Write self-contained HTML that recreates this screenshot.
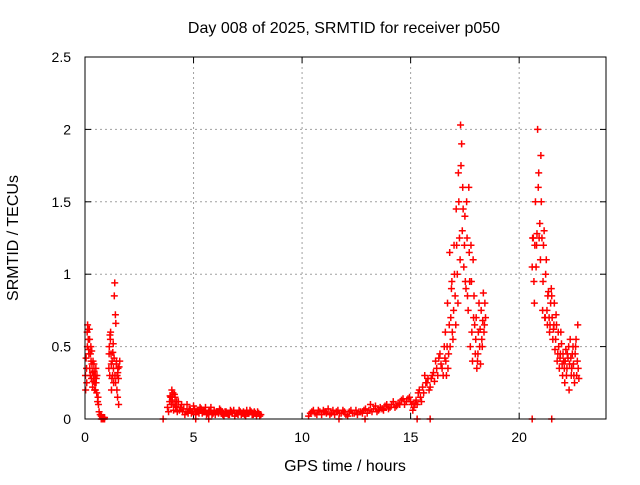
<!DOCTYPE html>
<html><head><meta charset="utf-8"><style>
body{margin:0;background:#fff}
svg text{font-family:"Liberation Sans",sans-serif;font-size:14px;fill:#000}
svg text.big{font-size:16px}
</style></head><body>
<svg id="chart" width="640" height="480">
<text class="big" x="344" y="33" text-anchor="middle">Day 008 of 2025, SRMTID for receiver p050</text>
<text class="big" x="345" y="471" text-anchor="middle">GPS time / hours</text>
<text class="big" transform="translate(18,238) rotate(-90)" text-anchor="middle">SRMTID / TECUs</text>
<g id="grid"></g>
<g id="ticks"></g>
<g id="marks"></g>
<rect x="85" y="57" width="521" height="362" fill="none" stroke="#000" stroke-width="1"/>
</svg>
<script>
const xTicks=[0,5,10,15,20];
const yTicks=[0,0.5,1,1.5,2,2.5];
const yTickLabels=["0","0.5","1","1.5","2","2.5"];
// segment data: hours and SRMTID values
const tA=[0.02,0.05,0.08,0.1,0.12,0.15,0.17,0.2,0.22,0.25,0.27,0.3,0.32,0.35,0.37,0.4,0.42,0.45,0.48,0.5,0.52,0.55,0.6,0.62,0.65,0.7,0.75,0.8,0.85,0.9,1.1,1.12,1.15,1.18,1.2,1.22,1.25,1.27,1.3,1.32,1.35,1.37,1.4,1.42,1.45,1.48,1.5,1.52,1.55,1.6];
const vA=[0.3,0.42,0.25,0.6,0.65,0.55,0.48,0.62,0.35,0.45,0.5,0.28,0.38,0.22,0.4,0.3,0.33,0.25,0.2,0.35,0.28,0.3,0.15,0.1,0.05,0.03,0.02,0.01,0.01,0.01,0.35,0.5,0.58,0.6,0.45,0.2,0.4,0.3,0.52,0.25,0.85,0.94,0.72,0.66,0.4,0.3,0.15,0.35,0.1,0.4];
const tA2=[0.03,0.07,0.11,0.14,0.18,0.21,0.24,0.28,0.31,0.34,0.38,0.41,0.44,0.47,0.51,0.54,0.58,1.11,1.14,1.17,1.21,1.24,1.28,1.31,1.34,1.38,1.41,1.44,1.47,1.51,1.54,1.57];
const vA2=[0.2,0.35,0.5,0.62,0.45,0.55,0.3,0.4,0.47,0.32,0.26,0.38,0.2,0.3,0.25,0.18,0.12,0.45,0.3,0.55,0.38,0.28,0.46,0.35,0.42,0.3,0.25,0.38,0.2,0.32,0.28,0.36];
const tB=[3.8,3.9,3.95,4.0,4.05,4.1,4.15,4.2,4.25,4.3,4.4,4.5,4.6,4.7,4.8,4.9,5.0,5.1,5.2,5.3,5.4,5.5,5.6,5.7,5.8,5.9,6.0,6.1,6.2,6.3,6.4,6.5,6.6,6.7,6.8,6.9,7.0,7.1,7.2,7.3,7.4,7.5,7.6,7.7,7.8,7.9,8.0,8.1];
const vB=[0.08,0.12,0.15,0.2,0.18,0.1,0.15,0.08,0.05,0.12,0.08,0.05,0.03,0.1,0.07,0.04,0.09,0.03,0.06,0.08,0.04,0.06,0.03,0.05,0.08,0.04,0.03,0.05,0.07,0.04,0.02,0.05,0.03,0.06,0.04,0.02,0.04,0.06,0.03,0.05,0.02,0.04,0.06,0.03,0.05,0.02,0.04,0.03];
const tB2=[3.85,3.92,3.98,4.02,4.08,4.12,4.18,4.22,4.35,4.45,4.55,4.65,4.75,4.85,4.95,5.05,5.15,5.25,5.35,5.45,5.55,5.65,5.75,5.85,5.95,6.05,6.15,6.25,6.35,6.45,6.55,6.65,6.75,6.85,6.95,7.05,7.15,7.25,7.35,7.45,7.55,7.65,7.75,7.85,7.95,8.05];
const vB2=[0.05,0.16,0.1,0.13,0.06,0.17,0.09,0.12,0.06,0.1,0.07,0.05,0.04,0.06,0.05,0.07,0.05,0.04,0.07,0.05,0.08,0.04,0.06,0.03,0.06,0.05,0.04,0.06,0.03,0.05,0.04,0.03,0.05,0.06,0.04,0.03,0.05,0.04,0.03,0.06,0.04,0.05,0.03,0.04,0.05,0.02];
const tC=[10.3,10.45,10.6,10.75,10.9,11.05,11.2,11.35,11.5,11.65,11.8,11.95,12.1,12.25,12.4,12.55,12.7,12.85,13.0,13.15,13.3,13.45,13.6,13.75,13.9,14.05,14.2,14.35,14.5,14.65,14.8,14.95,15.05,15.15,15.25,15.35,15.45,15.55,15.65,15.75,15.85,15.95,16.05,16.15,16.25,16.35,16.45,16.55];
const vC=[0.02,0.05,0.04,0.06,0.03,0.05,0.07,0.04,0.03,0.06,0.04,0.05,0.02,0.06,0.04,0.03,0.05,0.06,0.04,0.1,0.07,0.05,0.08,0.06,0.1,0.08,0.12,0.09,0.1,0.14,0.12,0.15,0.1,0.08,0.13,0.18,0.15,0.22,0.3,0.25,0.2,0.28,0.32,0.4,0.3,0.45,0.35,0.5];
const tC2=[10.38,10.52,10.68,10.82,10.98,11.12,11.28,11.42,11.58,11.72,11.88,12.02,12.18,12.32,12.48,12.62,12.78,12.92,13.08,13.22,13.38,13.52,13.68,13.82,13.98,14.12,14.28,14.42,14.58,14.72,14.88,15.0,15.1,15.2,15.3,15.4,15.5,15.6,15.7,15.8,15.9,16.0,16.1,16.2,16.3,16.4,16.5,16.58];
const vC2=[0.04,0.06,0.03,0.05,0.06,0.04,0.03,0.06,0.05,0.04,0.06,0.03,0.05,0.04,0.06,0.05,0.04,0.07,0.06,0.05,0.09,0.06,0.07,0.09,0.07,0.1,0.08,0.11,0.13,0.1,0.14,0.12,0.06,0.11,0.1,0.2,0.12,0.18,0.25,0.28,0.22,0.3,0.26,0.35,0.42,0.38,0.3,0.42];
const tD=[16.6,16.65,16.7,16.75,16.8,16.85,16.9,16.95,17.0,17.05,17.1,17.15,17.2,17.25,17.3,17.35,17.4,17.45,17.5,17.55,17.6,17.65,17.7,17.75,17.8,17.85,17.9,17.95,18.0,18.05,18.1,18.15,18.2,18.25,18.3,18.35,18.4,18.45];
const vD=[0.6,0.3,0.8,0.45,1.15,0.7,0.95,0.55,1.2,0.85,1.45,1.0,1.7,1.25,2.03,1.9,1.6,1.05,1.4,0.9,1.25,0.75,1.15,0.5,0.95,0.4,0.7,0.65,0.55,0.35,0.45,0.8,0.62,0.75,0.5,0.87,0.65,0.7];
const tD2=[16.62,16.68,16.72,16.78,16.82,16.88,16.92,16.98,17.02,17.08,17.12,17.18,17.22,17.28,17.32,17.38,17.42,17.48,17.52,17.58,17.62,17.68,17.72,17.78,17.82,17.88,17.92,17.98,18.02,18.08,18.12,18.18,18.22,18.28,18.32,18.38,18.42];
const vD2=[0.4,0.5,0.35,0.65,0.5,0.9,0.6,0.75,1.0,0.65,1.2,0.8,1.5,1.1,1.75,1.3,1.45,1.2,0.95,1.5,0.85,1.6,0.95,1.2,0.6,1.1,0.85,0.45,0.7,0.4,0.6,0.5,0.38,0.55,0.68,0.6,0.8];
const tE=[20.6,20.65,20.7,20.75,20.8,20.85,20.9,20.95,21.0,21.05,21.1,21.15,21.2,21.25,21.3,21.35,21.4,21.45,21.5,21.55,21.6,21.65,21.7,21.75,21.8,21.85,21.9,21.95,22.0,22.05,22.1,22.15,22.2,22.25,22.3,22.35,22.4,22.45,22.5,22.55,22.6,22.65,22.7,22.75];
const vE=[1.05,1.25,0.8,1.5,1.2,2.0,1.7,1.35,1.82,1.25,0.95,1.3,0.7,1.1,0.65,0.88,0.6,0.8,0.85,0.55,0.65,0.48,0.72,0.4,0.6,0.35,0.45,0.52,0.3,0.4,0.25,0.48,0.35,0.42,0.2,0.55,0.3,0.45,0.38,0.25,0.5,0.3,0.65,0.28];
const tE2=[20.62,20.68,20.72,20.78,20.82,20.88,20.92,20.98,21.02,21.08,21.12,21.18,21.22,21.28,21.32,21.38,21.42,21.48,21.52,21.58,21.62,21.68,21.72,21.78,21.82,21.88,21.92,21.98,22.02,22.08,22.12,22.18,22.22,22.28,22.32,22.38,22.42,22.48,22.52,22.58,22.62,22.68,22.72];
const vE2=[1.25,0.95,1.2,1.05,1.28,1.6,1.25,1.1,1.5,0.75,1.2,0.7,1.0,0.75,0.85,0.7,0.65,0.9,0.7,0.62,0.8,0.55,0.65,0.45,0.5,0.42,0.6,0.38,0.45,0.35,0.4,0.3,0.45,0.5,0.38,0.42,0.35,0.5,0.3,0.45,0.55,0.4,0.35];
const tZ=[0.75,0.8,0.85,0.9,3.6,5.1,5.7,11.7,12.9,15.3,15.9,20.6,21.5];
const vZ=[0,0,0,0,0,0,0,0,0,0,0,0,0];

const X0=85,X1=606,Y0=419,Y1=57,XMAX=24,YMAX=2.5;
const xs=v=>X0+(X1-X0)*v/XMAX;
const ys=v=>Y0-(Y0-Y1)*v/YMAX;
const NS="http://www.w3.org/2000/svg";
function mk(tag,attrs,parent){const e=document.createElementNS(NS,tag);for(const k in attrs)e.setAttribute(k,attrs[k]);parent.appendChild(e);return e;}
const grid=document.getElementById('grid'),ticks=document.getElementById('ticks'),marks=document.getElementById('marks');
xTicks.forEach((t,i)=>{
  const x=xs(t);
  if(i>0){const g=mk('line',{x1:x,x2:x,y1:Y1,y2:Y0,stroke:'#a0a0a0','stroke-dasharray':'2,3'},grid);
  
  }
  mk('line',{x1:x,x2:x,y1:Y0,y2:Y0-6,stroke:'#000'},ticks);
  mk('line',{x1:x,x2:x,y1:Y1,y2:Y1+6,stroke:'#000'},ticks);
  const l=mk('text',{x:x,y:Y0+23,'text-anchor':'middle'},ticks);l.textContent=t;
  
  
});
yTicks.forEach((t,i)=>{
  const y=ys(t);
  if(i>0&&i<yTicks.length-1){const g=mk('line',{x1:X0,x2:X1,y1:y,y2:y,stroke:'#a0a0a0','stroke-dasharray':'2,3'},grid);
  
  }
  mk('line',{x1:X0,x2:X0+6,y1:y,y2:y,stroke:'#000'},ticks);
  mk('line',{x1:X1,x2:X1-6,y1:y,y2:y,stroke:'#000'},ticks);
  const l=mk('text',{x:X0-14,y:y+5,'text-anchor':'end'},ticks);l.textContent=yTickLabels[i];
  
  
});
function plot(ts,vs){
  ts.forEach((t,i)=>{
    const x=xs(t),y=ys(vs[i]);
    const p=mk('path',{d:`M${x-3.5},${y}h7M${x},${y-3.5}v7`,stroke:'#ff0000','stroke-width':1.5},marks);
    
    
  });
}
[[tA,vA],[tA2,vA2],[tB,vB],[tB2,vB2],[tC,vC],[tC2,vC2],[tD,vD],[tD2,vD2],[tE,vE],[tE2,vE2],[tZ,vZ]].forEach(s=>plot(s[0],s[1]));
</script>
</body></html>
